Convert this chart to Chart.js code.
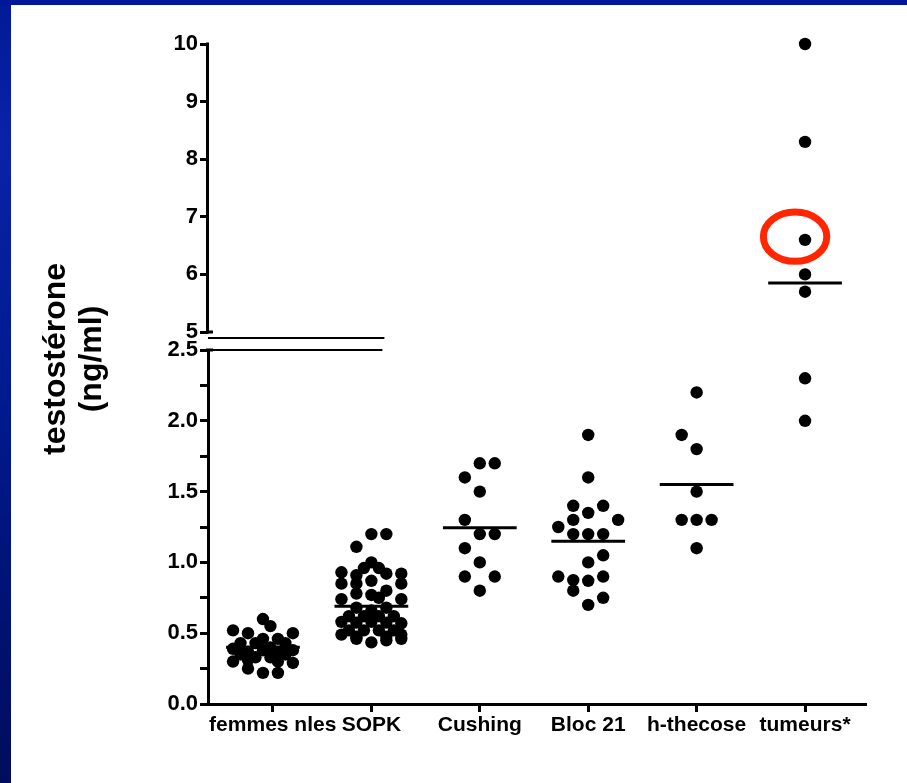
<!DOCTYPE html>
<html>
<head>
<meta charset="utf-8">
<title>testostérone</title>
<script src="https://cdn.jsdelivr.net/npm/chart.js@4.4.1/dist/chart.umd.min.js"></script>
<style>
  html, body { margin: 0; padding: 0; background: #fff; }
  #frame { position: relative; width: 907px; height: 783px; overflow: hidden; }
  #barLeft { position: absolute; left: 0; top: 0; width: 11px; height: 783px;
    background: linear-gradient(to bottom, #001a98 0%, #0a22a8 18%, #001a90 50%, #000d5c 100%); }
  #barTop { position: absolute; left: 0; top: 0; width: 907px; height: 5px; background: #00179a; }
  #wrap { position: absolute; left: 0; top: 0; width: 907px; height: 783px; }
</style>
</head>
<body>
<div id="frame">
  <div id="barLeft"></div>
  <div id="barTop"></div>
  <div id="wrap"><canvas id="chart"></canvas></div>
</div>
<script>
// --- données ---
const categories = ['femmes nles', 'SOPK', 'Cushing', 'Bloc 21', 'h-thecose', 'tumeurs*'];

// chaque groupe : valeurs (ng/ml) + colonne du nuage de points (-4..4)
const femmesVals = [0.60, 0.55, 0.52, 0.50, 0.50, 0.46, 0.46, 0.43, 0.43, 0.43, 0.39, 0.40, 0.38, 0.37,
                    0.38, 0.37, 0.40, 0.33, 0.33, 0.35, 0.35, 0.30, 0.29, 0.31, 0.30, 0.25, 0.22, 0.22];
const femmesCols = [0, 1, -4, -2, 4, 0, 2, -3, -1, 3, -4, 1, 4, -2,
                    0, 2, 3, -1, 1, -3, 3, -4, 4, -2, 2, -2, 0, 2];

const sopkVals = [1.20, 1.20, 1.11, 1.00, 0.96, 0.96, 0.93, 0.91, 0.92, 0.92, 0.87, 0.85, 0.85, 0.85,
                  0.80, 0.78, 0.77, 0.75, 0.74, 0.74, 0.68, 0.66, 0.68, 0.62, 0.62, 0.62, 0.62,
                  0.58, 0.575, 0.58, 0.575, 0.57, 0.52, 0.52, 0.52, 0.52, 0.49, 0.475, 0.475, 0.49,
                  0.46, 0.435, 0.45, 0.46];
const sopkCols = [0, 2, -2, 0, -1, 1, -4, -2, 2, 4, 0, -4, -2, 4,
                  2, -2, 0, 1, -4, 4, -2, 0, 2, -3, -1, 1, 3,
                  -4, -2, 0, 2, 4, -3, -1, 1, 3, -4, -2, 2, 4,
                  -2, 0, 2, 4];

const cushingVals = [1.70, 1.70, 1.60, 1.50, 1.30, 1.20, 1.20, 1.10, 1.00, 0.90, 0.90, 0.80];
const cushingCols = [0, 2, -2, 0, -2, 0, 2, -2, 0, -2, 2, 0];

const blocVals = [1.90, 1.60, 1.40, 1.40, 1.35, 1.30, 1.30, 1.25, 1.20, 1.20, 1.20, 1.05,
                  1.00, 0.90, 0.90, 0.875, 0.87, 0.80, 0.75, 0.70];
const blocCols = [0, 0, -2, 2, 0, -2, 4, -4, -2, 0, 2, 2,
                  0, -4, 2, -2, 0, -2, 2, 0];

const thecoseVals = [2.20, 1.90, 1.80, 1.50, 1.30, 1.30, 1.30, 1.10];
const thecoseCols = [0, -2, 0, 0, -2, 0, 2, 0];

const tumeursHigh = [10.0, 8.3, 6.6, 6.0, 5.7];   // partie haute de l'axe (5-10)
const tumeursLow = [2.3, 2.0];                    // partie basse de l'axe (0-2.5)

const medians = [0.40, 0.69, 1.245, 1.15, 1.55, 5.85];

const lowerTicks = [0, 0.5, 1.0, 1.5, 2.0, 2.5];
const upperTicks = [5, 6, 7, 8, 9, 10];
const circled = 6.6;  // point entouré en rouge (tumeurs*)

// --- réglages graphiques ---
const slot = 0.069;        // écart entre deux colonnes de points (unités de catégorie)
const halfMedian = 0.34;   // demi-largeur du trait de médiane
const upperMin = 4.6875;   // laisse la place de la coupure sous le 5
const labelAt = [0.09, 1, 2, 3, 4, 5];
const FONT = "'Liberation Sans', Arial, Helvetica, sans-serif";

const swarm = (vals, cols, idx) => vals.map((v, i) => ({ x: idx + cols[i] * slot, y: v }));

const dotStyle = { pointRadius: 6.2, pointBackgroundColor: '#000', pointBorderWidth: 0, showLine: false };

const datasets = [
  { data: swarm(femmesVals, femmesCols, 0), yAxisID: 'y', ...dotStyle },
  { data: swarm(sopkVals, sopkCols, 1), yAxisID: 'y', ...dotStyle },
  { data: swarm(cushingVals, cushingCols, 2), yAxisID: 'y', ...dotStyle },
  { data: swarm(blocVals, blocCols, 3), yAxisID: 'y', ...dotStyle },
  { data: swarm(thecoseVals, thecoseCols, 4), yAxisID: 'y', ...dotStyle },
  { data: tumeursLow.map(v => ({ x: 5, y: v })), yAxisID: 'y', ...dotStyle },
  { data: tumeursHigh.map(v => ({ x: 5, y: v })), yAxisID: 'y2', ...dotStyle }
];

medians.forEach((m, i) => {
  datasets.push({
    data: [{ x: i - halfMedian, y: m }, { x: i + halfMedian, y: m }],
    yAxisID: m > 2.5 ? 'y2' : 'y',
    showLine: true, pointRadius: 0, borderColor: '#000', borderWidth: 3
  });
});

// axe coupé, cercle rouge et titre de l'axe y
const brokenAxis = {
  id: 'brokenAxis',
  afterDraw(chart) {
    const { ctx, chartArea, scales } = chart;
    const x0 = chartArea.left;
    ctx.save();
    ctx.strokeStyle = '#000';
    ctx.lineWidth = 3;
    const yTop = scales.y2.getPixelForValue(upperTicks[upperTicks.length - 1]);
    const y5 = scales.y2.getPixelForValue(upperTicks[0]);
    ctx.beginPath();
    ctx.moveTo(x0 - 0.5, yTop - 1.5);
    ctx.lineTo(x0 - 0.5, y5 + 1.5);
    ctx.stroke();

    // petits traits de la coupure
    const y25 = scales.y.getPixelForValue(lowerTicks[lowerTicks.length - 1]);
    ctx.beginPath();
    ctx.moveTo(x0 - 2, y5); ctx.lineTo(x0 + 5, y5);
    ctx.moveTo(x0 - 2, y25); ctx.lineTo(x0 + 5, y25);
    ctx.stroke();

    // double ligne de coupure
    ctx.lineWidth = 2;
    const xEnd = scales.x.getPixelForValue(1.12);
    const yBreak = scales.y2.getPixelForValue(4.896);
    ctx.beginPath();
    ctx.moveTo(x0, yBreak); ctx.lineTo(xEnd, yBreak);
    ctx.moveTo(x0, y25); ctx.lineTo(xEnd - 2, y25);
    ctx.stroke();

    // cercle rouge
    const cx = scales.x.getPixelForValue(5 - 0.092);
    const cy = scales.y2.getPixelForValue(circled + 0.055);
    ctx.strokeStyle = '#ff2600';
    ctx.lineWidth = 7;
    ctx.beginPath();
    ctx.ellipse(cx, cy, 31.7, 24.7, 0, 0, Math.PI * 2);
    ctx.stroke();

    // titre vertical
    ctx.fillStyle = '#000';
    ctx.font = 'bold 32px ' + FONT;
    ctx.textAlign = 'center';
    ctx.textBaseline = 'alphabetic';
    const yMid = 359;
    [['testostérone', 65], ['(ng/ml)', 101]].forEach(([t, bx]) => {
      ctx.save();
      ctx.translate(bx, yMid);
      ctx.rotate(-Math.PI / 2);
      ctx.fillText(t, 0, 0);
      ctx.restore();
    });
    ctx.restore();
  }
};

const tickFont = { family: FONT, size: 22, weight: 'bold' };
const axisGrid = { drawOnChartArea: false, drawTicks: true, tickLength: 8, lineWidth: 3, color: '#000' };

new Chart(document.getElementById('chart'), {
  type: 'scatter',
  data: { datasets },
  plugins: [brokenAxis],
  options: {
    responsive: true,
    maintainAspectRatio: false,
    animation: false,
    events: [],
    clip: false,
    layout: { padding: { top: 44, right: 42, bottom: 0, left: 0 } },
    plugins: { legend: { display: false }, tooltip: { enabled: false } },
    scales: {
      x: {
        type: 'linear', position: 'bottom', min: -0.507, max: 5.553,
        afterBuildTicks: s => { s.ticks = labelAt.map(v => ({ value: v })); },
        afterFit: s => { s.height = 79; },
        ticks: {
          autoSkip: false, maxRotation: 0, minRotation: 0, padding: 1, color: '#000',
          font: { family: FONT, size: 21, weight: 'bold' },
          callback: (v, i) => categories[i]
        },
        grid: axisGrid,
        border: { display: true, width: 3, color: '#000' }
      },
      y: {
        type: 'linear', position: 'left', stack: 'ty', stackWeight: 354,
        min: 0, max: 2.5,
        afterFit: s => { s.width = 208; },
        ticks: {
          stepSize: 0.25, autoSkip: false, padding: 2, color: '#000', font: tickFont,
          callback: v => (Math.round(v * 4) % 2 === 0 && lowerTicks.includes(Math.round(v * 2) / 2)) ? v.toFixed(1) : ''
        },
        grid: axisGrid,
        border: { display: true, width: 3, color: '#000' }
      },
      y2: {
        type: 'linear', position: 'left', stack: 'ty', stackWeight: 306,
        min: upperMin, max: 10,
        afterBuildTicks: s => { s.ticks = upperTicks.map(v => ({ value: v })); },
        afterFit: s => { s.width = 208; },
        ticks: { autoSkip: false, padding: 2, color: '#000', font: tickFont, callback: v => String(v) },
        grid: axisGrid,
        border: { display: false }
      }
    }
  }
});
</script>
</body>
</html>
